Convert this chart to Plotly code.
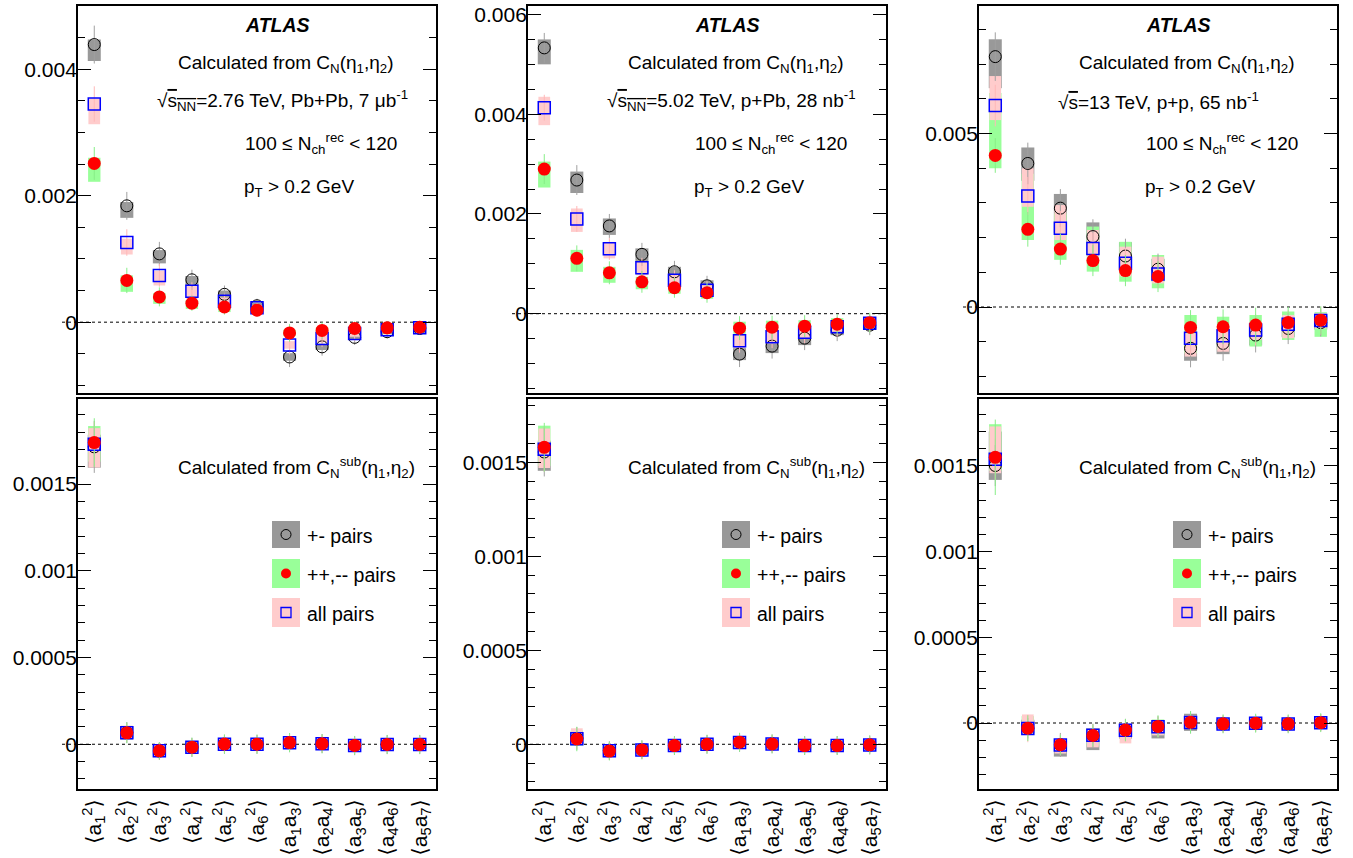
import plotly.graph_objects as go

W, H = 1353, 858
FONT = "Liberation Sans, Arial, Helvetica, DejaVu Sans, sans-serif"

CATEGORIES = [
    "⟨a<sub>1</sub><sup>2</sup>⟩", "⟨a<sub>2</sub><sup>2</sup>⟩", "⟨a<sub>3</sub><sup>2</sup>⟩",
    "⟨a<sub>4</sub><sup>2</sup>⟩", "⟨a<sub>5</sub><sup>2</sup>⟩", "⟨a<sub>6</sub><sup>2</sup>⟩",
    "⟨a<sub>1</sub>a<sub>3</sub>⟩", "⟨a<sub>2</sub>a<sub>4</sub>⟩", "⟨a<sub>3</sub>a<sub>5</sub>⟩",
    "⟨a<sub>4</sub>a<sub>6</sub>⟩", "⟨a<sub>5</sub>a<sub>7</sub>⟩",
]
X = list(range(len(CATEGORIES)))

SERIES_NAMES = ["+- pairs", "++,-- pairs", "all pairs"]

# ---------------- Panel 1: Pb+Pb 2.76 TeV, C_N ----------------
P1_PM_Y = [43.9e-4, 18.4e-4, 10.8e-4, 6.7e-4, 4.4e-4, 2.6e-4, -5.5e-4, -3.9e-4, -2.4e-4, -1.5e-4, -1.0e-4]
P1_PM_SUP = [0.8e-4, 0.6e-4, 0.6e-4, 0.6e-4, 0.6e-4, 0.5e-4, 0.6e-4, 0.5e-4, 0.4e-4, 0.4e-4, 0.3e-4]
P1_PM_SDN = [2.6e-4, 1.9e-4, 1.5e-4, 0.9e-4, 0.8e-4, 0.7e-4, 0.6e-4, 0.5e-4, 0.4e-4, 0.4e-4, 0.3e-4]
P1_PM_ST = [3.0e-4, 2.2e-4, 1.9e-4, 1.6e-4, 1.4e-4, 1.1e-4, 1.6e-4, 1.4e-4, 1.2e-4, 1.1e-4, 1.0e-4]
P1_PP_Y = [25.1e-4, 6.6e-4, 4.0e-4, 3.0e-4, 2.4e-4, 1.9e-4, -1.7e-4, -1.3e-4, -1.0e-4, -0.9e-4, -0.8e-4]
P1_PP_SUP = [0.9e-4, 0.8e-4, 0.6e-4, 0.5e-4, 0.5e-4, 0.4e-4, 0.5e-4, 0.5e-4, 0.4e-4, 0.4e-4, 0.4e-4]
P1_PP_SDN = [2.9e-4, 1.8e-4, 1.1e-4, 0.9e-4, 0.8e-4, 0.6e-4, 0.5e-4, 0.5e-4, 0.4e-4, 0.4e-4, 0.4e-4]
P1_PP_ST = [2.6e-4, 2.0e-4, 1.5e-4, 1.2e-4, 1.2e-4, 1.0e-4, 1.4e-4, 1.3e-4, 1.1e-4, 1.0e-4, 1.0e-4]
P1_ALL_Y = [34.5e-4, 12.6e-4, 7.4e-4, 4.9e-4, 3.3e-4, 2.3e-4, -3.6e-4, -2.6e-4, -1.8e-4, -1.2e-4, -0.9e-4]
P1_ALL_SUP = [0.9e-4, 0.6e-4, 0.7e-4, 0.8e-4, 0.6e-4, 0.4e-4, 0.6e-4, 0.5e-4, 0.5e-4, 0.4e-4, 0.4e-4]
P1_ALL_SDN = [3.2e-4, 1.9e-4, 1.6e-4, 1.2e-4, 0.8e-4, 0.6e-4, 0.6e-4, 0.6e-4, 0.5e-4, 0.4e-4, 0.4e-4]
P1_ALL_ST = [2.8e-4, 2.1e-4, 1.8e-4, 1.4e-4, 1.2e-4, 1.0e-4, 1.5e-4, 1.3e-4, 1.2e-4, 1.0e-4, 1.0e-4]

# ---------------- Panel 2: p+Pb 5.02 TeV, C_N ----------------
P2_PM_Y = [53.3e-4, 26.8e-4, 17.6e-4, 11.9e-4, 8.4e-4, 5.6e-4, -8.1e-4, -6.5e-4, -4.9e-4, -3.3e-4, -2.3e-4]
P2_PM_SUP = [1.7e-4, 1.7e-4, 1.5e-4, 1.2e-4, 1.0e-4, 1.1e-4, 1.2e-4, 1.2e-4, 1.3e-4, 1.0e-4, 0.8e-4]
P2_PM_SDN = [3.3e-4, 2.6e-4, 1.8e-4, 1.5e-4, 1.7e-4, 1.9e-4, 1.2e-4, 1.4e-4, 1.4e-4, 1.0e-4, 0.7e-4]
P2_PM_ST = [3.0e-4, 3.0e-4, 2.4e-4, 2.3e-4, 2.2e-4, 2.0e-4, 2.6e-4, 2.5e-4, 2.4e-4, 2.2e-4, 2.0e-4]
P2_PP_Y = [29.0e-4, 11.1e-4, 8.2e-4, 6.4e-4, 5.2e-4, 4.2e-4, -2.9e-4, -2.7e-4, -2.5e-4, -2.1e-4, -1.8e-4]
P2_PP_SUP = [1.5e-4, 1.7e-4, 1.2e-4, 1.0e-4, 1.1e-4, 1.0e-4, 1.3e-4, 1.3e-4, 1.2e-4, 1.2e-4, 1.0e-4]
P2_PP_SDN = [3.7e-4, 2.7e-4, 2.0e-4, 1.5e-4, 1.2e-4, 1.2e-4, 1.1e-4, 1.1e-4, 1.1e-4, 1.0e-4, 0.9e-4]
P2_PP_ST = [3.0e-4, 2.6e-4, 2.3e-4, 2.2e-4, 2.0e-4, 2.0e-4, 2.4e-4, 2.3e-4, 2.2e-4, 2.0e-4, 2.0e-4]
P2_ALL_Y = [41.3e-4, 19.0e-4, 13.0e-4, 9.2e-4, 6.7e-4, 4.7e-4, -5.4e-4, -4.6e-4, -3.7e-4, -2.6e-4, -1.9e-4]
P2_ALL_SUP = [2.2e-4, 2.1e-4, 1.4e-4, 1.2e-4, 1.2e-4, 1.0e-4, 1.2e-4, 1.2e-4, 1.2e-4, 1.0e-4, 0.8e-4]
P2_ALL_SDN = [3.5e-4, 2.6e-4, 1.9e-4, 1.5e-4, 1.5e-4, 1.3e-4, 1.5e-4, 1.4e-4, 1.3e-4, 1.0e-4, 0.8e-4]
P2_ALL_ST = [2.6e-4, 2.6e-4, 2.2e-4, 2.0e-4, 2.0e-4, 1.8e-4, 2.4e-4, 2.3e-4, 2.2e-4, 2.0e-4, 1.8e-4]

# ---------------- Panel 3: p+p 13 TeV, C_N ----------------
P3_PM_Y = [72.2e-4, 41.4e-4, 28.5e-4, 20.3e-4, 14.7e-4, 10.9e-4, -11.9e-4, -10.5e-4, -8.1e-4, -6.2e-4, -4.5e-4]
P3_PM_SUP = [5.0e-4, 4.6e-4, 4.1e-4, 4.1e-4, 4.0e-4, 3.0e-4, 4.3e-4, 3.9e-4, 3.0e-4, 2.5e-4, 2.0e-4]
P3_PM_SDN = [9.1e-4, 5.0e-4, 7.2e-4, 5.3e-4, 4.5e-4, 3.5e-4, 3.6e-4, 3.1e-4, 3.0e-4, 2.5e-4, 2.0e-4]
P3_PM_ST = [7.0e-4, 6.0e-4, 5.5e-4, 5.0e-4, 5.0e-4, 4.5e-4, 5.5e-4, 5.0e-4, 5.0e-4, 4.5e-4, 4.0e-4]
P3_PP_Y = [43.7e-4, 22.4e-4, 16.7e-4, 13.4e-4, 10.5e-4, 8.8e-4, -5.9e-4, -5.7e-4, -5.2e-4, -4.5e-4, -3.8e-4]
P3_PP_SUP = [18.0e-4, 16.0e-4, 10.3e-4, 9.8e-4, 8.3e-4, 6.2e-4, 3.6e-4, 2.9e-4, 2.9e-4, 3.2e-4, 2.3e-4]
P3_PP_SDN = [3.7e-4, 3.1e-4, 3.1e-4, 3.2e-4, 3.2e-4, 3.4e-4, 7.5e-4, 6.7e-4, 6.2e-4, 5.0e-4, 4.8e-4]
P3_PP_ST = [5.0e-4, 5.0e-4, 4.5e-4, 4.5e-4, 4.5e-4, 4.5e-4, 5.0e-4, 5.0e-4, 5.0e-4, 4.5e-4, 4.0e-4]
P3_ALL_Y = [58.1e-4, 32.0e-4, 22.7e-4, 16.9e-4, 12.6e-4, 9.5e-4, -9.0e-4, -8.3e-4, -6.6e-4, -5.0e-4, -3.9e-4]
P3_ALL_SUP = [8.5e-4, 8.0e-4, 6.7e-4, 5.3e-4, 4.8e-4, 5.0e-4, 1.4e-4, 1.7e-4, 2.4e-4, 2.7e-4, 2.1e-4]
P3_ALL_SDN = [4.2e-4, 3.1e-4, 3.4e-4, 2.4e-4, 3.8e-4, 2.7e-4, 5.3e-4, 4.6e-4, 2.9e-4, 4.0e-4, 2.3e-4]
P3_ALL_ST = [6.0e-4, 5.5e-4, 5.0e-4, 4.5e-4, 4.5e-4, 4.0e-4, 5.0e-4, 4.5e-4, 4.5e-4, 4.0e-4, 4.0e-4]

# ---------------- Panel 4: Pb+Pb, C_N^sub ----------------
P4_PM_Y = [171.5e-5, 6.8e-5, -3.9e-5, -1.8e-5, 0.0e-5, 0.0e-5, 0.9e-5, 0.4e-5, -0.8e-5, -0.2e-5, -0.2e-5]
P4_PM_SUP = [7.0e-5, 3.5e-5, 2.0e-5, 2.5e-5, 2.0e-5, 2.0e-5, 2.5e-5, 2.0e-5, 2.0e-5, 2.0e-5, 2.0e-5]
P4_PM_SDN = [12.0e-5, 3.5e-5, 2.0e-5, 2.5e-5, 2.0e-5, 2.0e-5, 2.5e-5, 2.0e-5, 2.0e-5, 2.0e-5, 2.0e-5]
P4_PM_ST = [15.0e-5, 6.0e-5, 5.0e-5, 5.5e-5, 5.5e-5, 5.5e-5, 5.5e-5, 5.5e-5, 5.5e-5, 5.5e-5, 5.5e-5]
P4_PP_Y = [174.0e-5, 6.6e-5, -3.8e-5, -1.7e-5, 0.1e-5, 0.0e-5, 1.0e-5, 0.3e-5, -0.7e-5, -0.1e-5, -0.1e-5]
P4_PP_SUP = [9.5e-5, 4.0e-5, 2.5e-5, 3.0e-5, 2.5e-5, 2.5e-5, 2.5e-5, 2.5e-5, 2.5e-5, 2.5e-5, 2.5e-5]
P4_PP_SDN = [11.0e-5, 4.0e-5, 2.5e-5, 3.0e-5, 2.5e-5, 2.5e-5, 2.5e-5, 2.5e-5, 2.5e-5, 2.5e-5, 2.5e-5]
P4_PP_ST = [14.0e-5, 6.0e-5, 5.0e-5, 5.5e-5, 5.5e-5, 5.5e-5, 5.5e-5, 5.5e-5, 5.5e-5, 5.5e-5, 5.5e-5]
P4_ALL_Y = [173.0e-5, 6.7e-5, -3.8e-5, -1.7e-5, 0.0e-5, 0.0e-5, 0.9e-5, 0.3e-5, -0.7e-5, -0.2e-5, -0.2e-5]
P4_ALL_SUP = [9.3e-5, 4.0e-5, 2.0e-5, 2.5e-5, 2.0e-5, 2.0e-5, 2.5e-5, 2.0e-5, 2.0e-5, 2.0e-5, 2.0e-5]
P4_ALL_SDN = [13.4e-5, 4.0e-5, 2.0e-5, 2.5e-5, 2.0e-5, 2.0e-5, 2.5e-5, 2.0e-5, 2.0e-5, 2.0e-5, 2.0e-5]
P4_ALL_ST = [13.0e-5, 5.5e-5, 4.5e-5, 5.0e-5, 5.0e-5, 5.0e-5, 5.0e-5, 5.0e-5, 5.0e-5, 5.0e-5, 5.0e-5]

# ---------------- Panel 5: p+Pb, C_N^sub ----------------
P5_PM_Y = [155.5e-5, 3.2e-5, -3.4e-5, -2.9e-5, -0.7e-5, 0.0e-5, 1.0e-5, 0.2e-5, -0.7e-5, -0.6e-5, -0.4e-5]
P5_PM_SUP = [6.0e-5, 3.0e-5, 2.0e-5, 2.0e-5, 2.0e-5, 2.0e-5, 2.0e-5, 2.0e-5, 2.0e-5, 2.0e-5, 2.0e-5]
P5_PM_SDN = [10.0e-5, 3.0e-5, 2.0e-5, 2.0e-5, 2.0e-5, 2.0e-5, 2.0e-5, 2.0e-5, 2.0e-5, 2.0e-5, 2.0e-5]
P5_PM_ST = [13.0e-5, 6.0e-5, 5.0e-5, 5.0e-5, 5.0e-5, 5.0e-5, 5.0e-5, 5.0e-5, 5.0e-5, 5.0e-5, 5.0e-5]
P5_PP_Y = [158.0e-5, 2.8e-5, -3.6e-5, -3.0e-5, -0.7e-5, 0.0e-5, 1.1e-5, 0.2e-5, -0.7e-5, -0.7e-5, -0.3e-5]
P5_PP_SUP = [11.5e-5, 4.5e-5, 2.5e-5, 2.5e-5, 2.5e-5, 2.5e-5, 2.5e-5, 2.5e-5, 2.5e-5, 2.5e-5, 2.5e-5]
P5_PP_SDN = [10.0e-5, 3.5e-5, 2.5e-5, 2.5e-5, 2.5e-5, 2.5e-5, 2.5e-5, 2.5e-5, 2.5e-5, 2.5e-5, 2.5e-5]
P5_PP_ST = [13.0e-5, 6.5e-5, 5.0e-5, 5.0e-5, 5.0e-5, 5.0e-5, 5.0e-5, 5.0e-5, 5.0e-5, 5.0e-5, 5.0e-5]
P5_ALL_Y = [157.0e-5, 3.0e-5, -3.5e-5, -3.0e-5, -0.7e-5, 0.0e-5, 1.0e-5, 0.2e-5, -0.7e-5, -0.6e-5, -0.4e-5]
P5_ALL_SUP = [11.0e-5, 5.5e-5, 2.0e-5, 2.0e-5, 2.0e-5, 2.0e-5, 2.0e-5, 2.0e-5, 2.0e-5, 2.0e-5, 2.0e-5]
P5_ALL_SDN = [10.0e-5, 3.0e-5, 2.0e-5, 2.0e-5, 2.0e-5, 2.0e-5, 2.0e-5, 2.0e-5, 2.0e-5, 2.0e-5, 2.0e-5]
P5_ALL_ST = [12.0e-5, 6.0e-5, 4.5e-5, 4.5e-5, 4.5e-5, 4.5e-5, 4.5e-5, 4.5e-5, 4.5e-5, 4.5e-5, 4.5e-5]

# ---------------- Panel 6: p+p, C_N^sub ----------------
P6_PM_Y = [150.2e-5, -3.1e-5, -12.8e-5, -7.4e-5, -4.1e-5, -2.1e-5, 0.4e-5, -0.6e-5, -0.2e-5, -0.6e-5, 0.2e-5]
P6_PM_SUP = [19.8e-5, 5.0e-5, 3.0e-5, 4.3e-5, 3.5e-5, 3.9e-5, 5.0e-5, 3.0e-5, 3.0e-5, 3.0e-5, 3.0e-5]
P6_PM_SDN = [8.4e-5, 3.0e-5, 6.8e-5, 8.4e-5, 5.0e-5, 6.9e-5, 5.0e-5, 3.0e-5, 3.0e-5, 3.0e-5, 3.0e-5]
P6_PM_ST = [12.0e-5, 6.0e-5, 7.0e-5, 7.0e-5, 6.5e-5, 6.0e-5, 6.5e-5, 5.0e-5, 5.0e-5, 5.0e-5, 5.0e-5]
P6_PP_Y = [155.0e-5, -3.0e-5, -12.7e-5, -7.3e-5, -4.1e-5, -2.0e-5, 0.4e-5, -0.5e-5, -0.1e-5, -0.5e-5, 0.2e-5]
P6_PP_SUP = [19.3e-5, 7.0e-5, 3.0e-5, 4.0e-5, 3.5e-5, 4.0e-5, 3.0e-5, 3.0e-5, 3.0e-5, 3.0e-5, 3.0e-5]
P6_PP_SDN = [8.0e-5, 3.0e-5, 4.0e-5, 6.0e-5, 4.0e-5, 5.0e-5, 3.0e-5, 3.0e-5, 3.0e-5, 3.0e-5, 3.0e-5]
P6_PP_ST = [22.0e-5, 7.5e-5, 6.0e-5, 6.5e-5, 6.5e-5, 6.5e-5, 6.5e-5, 5.5e-5, 5.5e-5, 5.5e-5, 5.5e-5]
P6_ALL_Y = [153.9e-5, -3.2e-5, -12.8e-5, -7.2e-5, -4.3e-5, -2.2e-5, 0.3e-5, -0.6e-5, -0.2e-5, -0.6e-5, 0.2e-5]
P6_ALL_SUP = [19.1e-5, 8.2e-5, 3.0e-5, 4.0e-5, 4.0e-5, 3.5e-5, 4.0e-5, 3.0e-5, 3.0e-5, 3.0e-5, 3.0e-5]
P6_ALL_SDN = [8.2e-5, 2.9e-5, 5.0e-5, 7.0e-5, 7.6e-5, 5.0e-5, 3.0e-5, 3.0e-5, 3.0e-5, 3.0e-5, 3.0e-5]
P6_ALL_ST = [12.0e-5, 8.0e-5, 6.0e-5, 6.5e-5, 6.5e-5, 6.0e-5, 5.0e-5, 5.0e-5, 5.0e-5, 5.0e-5, 5.0e-5]

# axis ranges and ticks
Y_RANGES = [[-0.00112, 0.00500], [-0.00159, 0.00617], [-0.00248, 0.00868],
            [-0.000258, 0.001991], [-0.000238, 0.001837], [-0.000385, 0.00189]]
Y_DTICK = [0.002, 0.002, 0.005, 0.0005, 0.0005, 0.0005]
Y_MINOR = [0.0005, 0.0005, 0.001, 0.0001, 0.0001, 0.0001]

ENERGY_TEXT = [
    "√<span style='text-decoration:overline'>s<sub>NN</sub></span>=2.76 TeV, Pb+Pb, 7 μb<sup>-1</sup>",
    "√<span style='text-decoration:overline'>s<sub>NN</sub></span>=5.02 TeV, p+Pb, 28 nb<sup>-1</sup>",
    "√<span style='text-decoration:overline'>s</span>=13 TeV, p+p, 65 nb<sup>-1</sup>",
]

PANELS = [
    [(P1_PM_Y, P1_PM_SUP, P1_PM_SDN, P1_PM_ST), (P1_PP_Y, P1_PP_SUP, P1_PP_SDN, P1_PP_ST), (P1_ALL_Y, P1_ALL_SUP, P1_ALL_SDN, P1_ALL_ST)],
    [(P2_PM_Y, P2_PM_SUP, P2_PM_SDN, P2_PM_ST), (P2_PP_Y, P2_PP_SUP, P2_PP_SDN, P2_PP_ST), (P2_ALL_Y, P2_ALL_SUP, P2_ALL_SDN, P2_ALL_ST)],
    [(P3_PM_Y, P3_PM_SUP, P3_PM_SDN, P3_PM_ST), (P3_PP_Y, P3_PP_SUP, P3_PP_SDN, P3_PP_ST), (P3_ALL_Y, P3_ALL_SUP, P3_ALL_SDN, P3_ALL_ST)],
    [(P4_PM_Y, P4_PM_SUP, P4_PM_SDN, P4_PM_ST), (P4_PP_Y, P4_PP_SUP, P4_PP_SDN, P4_PP_ST), (P4_ALL_Y, P4_ALL_SUP, P4_ALL_SDN, P4_ALL_ST)],
    [(P5_PM_Y, P5_PM_SUP, P5_PM_SDN, P5_PM_ST), (P5_PP_Y, P5_PP_SUP, P5_PP_SDN, P5_PP_ST), (P5_ALL_Y, P5_ALL_SUP, P5_ALL_SDN, P5_ALL_ST)],
    [(P6_PM_Y, P6_PM_SUP, P6_PM_SDN, P6_PM_ST), (P6_PP_Y, P6_PP_SUP, P6_PP_SDN, P6_PP_ST), (P6_ALL_Y, P6_ALL_SUP, P6_ALL_SDN, P6_ALL_ST)],
]

# styles
BOX_COLORS = ["#999999", "#99ff99", "#ffcccc"]
LINE_COLORS = ["#a0a0a0", "#88ee88", "#ffb8b8"]
BOX_WIDTHS = [0.40, 0.38, 0.36]
MARKERS = [
    dict(symbol="circle-open", size=12, color="black", line=dict(width=1, color="black")),
    dict(symbol="circle", size=13, color="#ff0000", line=dict(width=0)),
    dict(symbol="square-open", size=12, color="#0000ff", line=dict(width=1.5, color="#0000ff")),
]
MARKER_ORDER = [0, 2, 1]

COLS = [(78, 436), (528, 886), (979, 1337)]
ROWS = [(6, 393), (399, 789)]


def px(xp):
    return xp / W


def py(yp):
    return 1 - yp / H


fig = go.Figure()
layout = dict(
    width=W, height=H, margin=dict(l=0, r=0, t=0, b=0),
    paper_bgcolor="white", plot_bgcolor="rgba(0,0,0,0)",
    barmode="overlay", showlegend=False,
    font=dict(family=FONT, color="black"),
)
shapes = []
annotations = []

for p in range(6):
    row, col = divmod(p, 3)
    sfx = "" if p == 0 else str(p + 1)
    xa, ya = "x" + sfx, "y" + sfx
    L, R = COLS[col]
    T, B = ROWS[row]
    series = PANELS[p]

    # systematic boxes
    for s in range(3):
        yv, sup, sdn, st = series[s]
        fig.add_trace(go.Bar(
            x=X, y=[u + d for u, d in zip(sup, sdn)], base=[v - d for v, d in zip(yv, sdn)],
            width=BOX_WIDTHS[s], marker=dict(color=BOX_COLORS[s], line=dict(width=0)),
            xaxis=xa, yaxis=ya, hoverinfo="skip", name=SERIES_NAMES[s],
        ))
    # markers with stat lines
    for s in MARKER_ORDER:
        yv, sup, sdn, st = series[s]
        fig.add_trace(go.Scatter(
            x=X, y=yv, mode="markers", marker=MARKERS[s], name=SERIES_NAMES[s],
            error_y=dict(type="data", array=st, symmetric=True, width=0, thickness=1,
                         color=LINE_COLORS[s]),
            xaxis=xa, yaxis=ya, cliponaxis=False,
        ))

    layout["xaxis" + sfx] = dict(
        domain=[px(L), px(R)], anchor=ya, range=[-0.5, 10.5],
        tickmode="array", tickvals=X, ticktext=CATEGORIES,
        showticklabels=(row == 1), tickangle=-90, ticks="",
        tickfont=dict(family=FONT, size=21, color="black"),
        showline=True, linecolor="black", linewidth=1.8, mirror=True,
        showgrid=False, zeroline=False, automargin=False,
    )
    layout["yaxis" + sfx] = dict(
        domain=[py(B), py(T)], anchor=xa, range=Y_RANGES[p],
        tick0=0, dtick=Y_DTICK[p], ticks="inside", ticklen=13, tickwidth=1.2, tickcolor="black",
        minor=dict(dtick=Y_MINOR[p], tick0=0, ticks="inside", ticklen=7, tickwidth=1.2,
                   tickcolor="black", showgrid=False),
        tickfont=dict(family=FONT, size=21, color="black"), exponentformat="none",
        ticklabelstandoff=-5,
        showline=True, linecolor="black", linewidth=1.8, mirror="allticks",
        showgrid=False, zeroline=False, automargin=False,
    )

    # dotted zero line
    shapes.append(dict(type="line", xref="paper", yref=ya, x0=px(L - 16), x1=px(R), y0=0, y1=0,
                       line=dict(color="black", width=1, dash="dot"), layer="below"))

    def ann(text, rel, yc, size=19):
        annotations.append(dict(text=text, x=px(L + rel), y=py(yc), xref="paper", yref="paper",
                                xanchor="left", yanchor="middle", showarrow=False,
                                font=dict(family=FONT, size=size, color="black")))

    if row == 0:
        ann("<b><i>ATLAS</i></b>", 165, 25, 19.5)
        ann("Calculated from C<sub>N</sub>(η<sub>1</sub>,η<sub>2</sub>)", 98, 64)
        ann(ENERGY_TEXT[col], 77, 101)
        ann("100 ≤ N<sub>ch</sub><sup>rec</sup> &lt; 120", 165, 144)
        ann("p<sub>T</sub> &gt; 0.2 GeV", 164, 188)
    else:
        ann("Calculated from C<sub>N</sub><sup>sub</sup>(η<sub>1</sub>,η<sub>2</sub>)", 98, 467)
        # legend
        box_y = [(521, 548), (559, 588), (598, 627)]
        for s in range(3):
            y0, y1 = box_y[s]
            shapes.append(dict(type="rect", xref="paper", yref="paper", x0=px(L + 194), x1=px(L + 222),
                               y0=py(y1), y1=py(y0), fillcolor=BOX_COLORS[s], line=dict(width=0),
                               layer="above"))
            cx, cy = L + 208, (y0 + y1) / 2
            if s == 0:
                shapes.append(dict(type="circle", xref="paper", yref="paper", x0=px(cx - 5), x1=px(cx + 5),
                                   y0=py(cy + 5), y1=py(cy - 5), line=dict(color="black", width=1),
                                   layer="above"))
            elif s == 1:
                shapes.append(dict(type="circle", xref="paper", yref="paper", x0=px(cx - 5), x1=px(cx + 5),
                                   y0=py(cy + 5), y1=py(cy - 5), fillcolor="#ff0000",
                                   line=dict(width=0), layer="above"))
            else:
                shapes.append(dict(type="rect", xref="paper", yref="paper", x0=px(cx - 5), x1=px(cx + 5),
                                   y0=py(cy + 5), y1=py(cy - 5), line=dict(color="#0000ff", width=1.3),
                                   layer="above"))
            ann(SERIES_NAMES[s], 227, cy + 1, 19.5)

layout["shapes"] = shapes
layout["annotations"] = annotations
fig.update_layout(**layout)
fig.write_html(
    "out.html",
    config={"displayModeBar": False},
    post_script="document.body.style.margin='0px';document.body.style.overflow='hidden';",
)
